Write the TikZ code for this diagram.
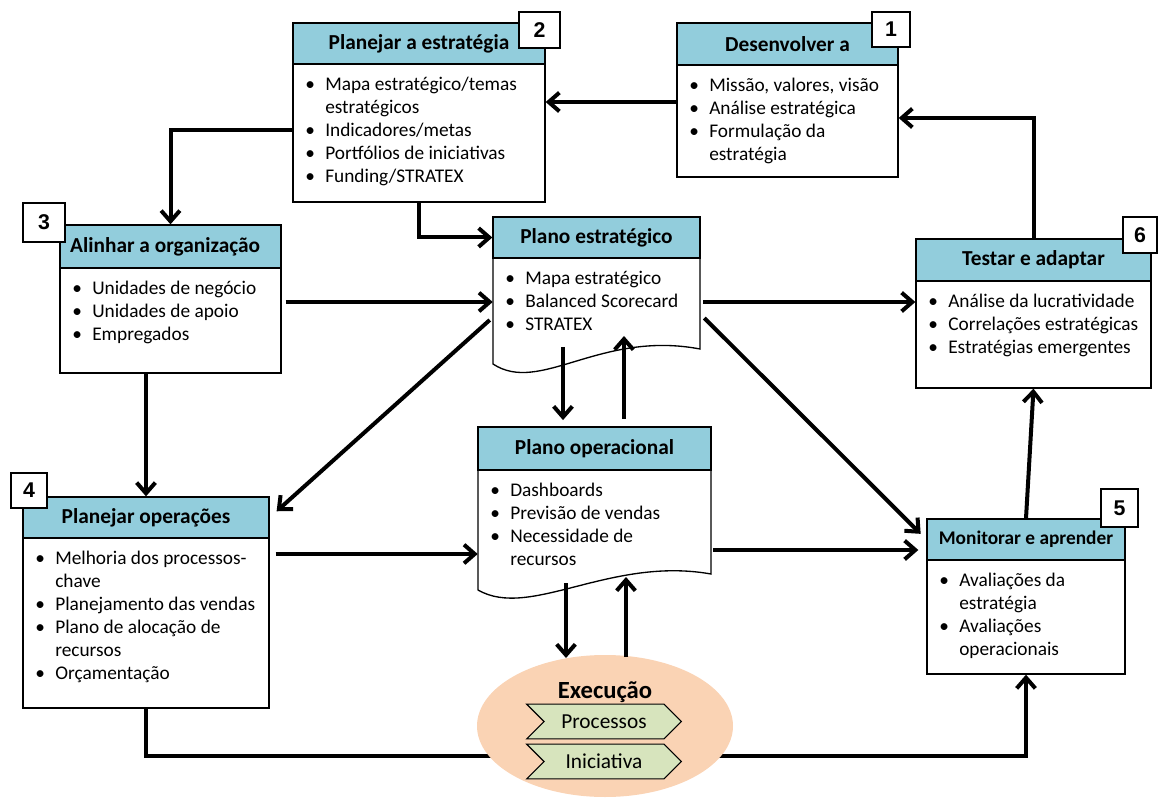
\documentclass[tikz,border=0pt]{standalone}
\usepackage{fontspec}
\setmainfont{Carlito}
\newfontfamily\numfont{Liberation Sans}
\usetikzlibrary{arrows.meta,fit,shapes.geometric,shapes.symbols,calc}
\definecolor{hdr}{HTML}{92CDDC}
\definecolor{peach}{HTML}{FAD3B4}
\definecolor{chev}{HTML}{D7E4BD}
\newcommand\bul[1]{\strut\makebox[15pt][l]{\textbullet}#1}
\newcommand\cnt[1]{\strut\hspace*{15pt}#1}
\begin{document}
\begin{tikzpicture}[x=0.75pt,y=-0.75pt,
  frame/.style={draw=black, line width=1pt, fill=white, inner sep=0pt},
  hdrbox/.style={draw=black, line width=1pt, fill=hdr, inner sep=0pt},
  ghost/.style={inner sep=0pt},
  ttl/.style={font=\fontsize{16}{18}\selectfont\bfseries, inner sep=0pt},
  body/.style={anchor=north west, align=left, inner sep=0pt, font=\fontsize{14.5}{17.25}\selectfont},
  numbox/.style={draw=black, line width=1pt, fill=white, inner sep=0pt},
  numtxt/.style={inner sep=0pt, font=\numfont\fontsize{16}{16}\selectfont\bfseries},
  conn/.style={line width=3pt, black},
  arr/.style={conn, -{Straight Barb[length=8pt,width=14pt]}},
  chevbox/.style={signal, signal to=east, signal from=west, draw=black, line width=0.8pt, fill=chev,
    minimum width=116pt, minimum height=26pt, inner sep=0pt, font=\fontsize{16}{18}\selectfont},
]
\useasboundingbox (0,0) rectangle (1160,798);

% ---------- Box 1: Desenvolver a
\node[frame, fit={(677,23)(898,177)}] (b1) {};
\node[hdrbox, fit={(677,23)(898,65)}] (h1) {};
\node[ttl] (h1t) at (h1) {Desenvolver a};
\node[body] (t1) at (689,75) {\bul{Missão, valores, visão}\\ \bul{Análise estratégica}\\ \bul{Formulação da}\\ \cnt{estratégia}};
\node[numbox, fit={(872,12)(910,47)}] (n1) {};
\node[numtxt] (n1t) at (n1) {1};

% ---------- Box 2: Planejar a estratégia
\node[frame, fit={(293,23)(545,202)}] (b2) {};
\node[hdrbox, fit={(293,23)(545,64)}] (h2) {};
\node[ttl] (h2t) at (h2) {Planejar a estratégia};
\node[body] (t2) at (305,74) {\bul{Mapa estratégico/temas}\\ \cnt{estratégicos}\\ \bul{Indicadores/metas}\\ \bul{Portfólios de iniciativas}\\ \bul{Funding/STRATEX}};
\node[numbox, fit={(519,12)(560,48)}] (n2) {};
\node[numtxt] (n2t) at (n2) {2};

% ---------- Box 3: Alinhar a organização
\node[frame, fit={(60,225)(281,373)}] (b3) {};
\node[hdrbox, fit={(60,225)(281,268)}] (h3) {};
\node[ttl] (h3t) at ([xshift=-4]h3.center) {Alinhar a organização};
\node[body] (t3) at (72,278) {\bul{Unidades de negócio}\\ \bul{Unidades de apoio}\\ \bul{Empregados}};
\node[numbox, fit={(23,203)(65,242)}] (n3) {};
\node[numtxt] (n3t) at (n3) {3};

% ---------- Plano estratégico (document shape)
\node[ghost, fit={(493,217)(700,349)}] (ps) {};
\draw[line width=1pt, fill=white] (493,217) -- (700,217) -- (700,349)
  .. controls (600,330) and (540,395) .. (493,364) -- cycle;
\node[hdrbox, fit={(493,217)(700,258)}] (psh) {};
\node[ttl] (psht) at (psh) {Plano estratégico};
\node[body] (pst) at (505,268) {\bul{Mapa estratégico}\\ \bul{Balanced Scorecard}\\ \bul{STRATEX}};

% ---------- Box 6: Testar e adaptar
\node[frame, fit={(916,239)(1151,388)}] (b6) {};
\node[hdrbox, fit={(916,239)(1151,281)}] (h6) {};
\node[ttl] (h6t) at (h6) {Testar e adaptar};
\node[body] (t6) at (928,291) {\bul{Análise da lucratividade}\\ \bul{Correlações estratégicas}\\ \bul{Estratégias emergentes}};
\node[numbox, fit={(1123,217)(1157,253)}] (n6) {};
\node[numtxt] (n6t) at (n6) {6};

% ---------- Plano operacional (document shape)
\node[ghost, fit={(478,427)(711,574)}] (po) {};
\draw[line width=1pt, fill=white] (478,427) -- (711,427) -- (711,574)
  .. controls (610,556) and (530,620) .. (478,590) -- cycle;
\node[hdrbox, fit={(478,427)(711,470)}] (poh) {};
\node[ttl] (poht) at (poh) {Plano operacional};
\node[body] (pot) at (490,480) {\bul{Dashboards}\\ \bul{Previsão de vendas}\\ \bul{Necessidade de}\\ \cnt{recursos}};

% ---------- Box 4: Planejar operações
\node[frame, fit={(23,497)(269,708)}] (b4) {};
\node[hdrbox, fit={(23,497)(269,538)}] (h4) {};
\node[ttl] (h4t) at (h4) {Planejar operações};
\node[body] (t4) at (35,548) {\bul{Melhoria dos processos-}\\ \cnt{chave}\\ \bul{Planejamento das vendas}\\ \bul{Plano de alocação de}\\ \cnt{recursos}\\ \bul{Orçamentação}};
\node[numbox, fit={(11,473)(47,508)}] (n4) {};
\node[numtxt] (n4t) at (n4) {4};

% ---------- Box 5: Monitorar e aprender
\node[frame, fit={(927,519)(1125,674)}] (b5) {};
\node[hdrbox, fit={(927,519)(1125,560)}] (h5) {};
\node[ttl, font=\fontsize{14.5}{17}\selectfont\bfseries] (h5t) at (h5) {Monitorar e aprender};
\node[body] (t5) at (939,570) {\bul{Avaliações da}\\ \cnt{estratégia}\\ \bul{Avaliações}\\ \cnt{operacionais}};
\node[numbox, fit={(1101,489)(1138,527)}] (n5) {};
\node[numtxt] (n5t) at (n5) {5};

% ---------- bottom connector (behind the ellipse)
\draw[arr] (b4.south) |- (b5.south |- 0,756) -- (b5.south);

% ---------- Execução
\node[ellipse, fill=peach, minimum width=192pt, minimum height=106.5pt, inner sep=0pt] (exe) at (605,726) {};
\node[font=\fontsize{18.5}{20}\selectfont\bfseries, inner sep=0pt] (exet) at (605,692) {Execução};
\node[chevbox] (proc) at (604,721.5) {Processos};
\node[chevbox] (inic) at (604,761.5) {Iniciativa};

% ---------- free ends
\coordinate (c1) at (563,347);
\coordinate (c2a) at (624,419);
\coordinate (c2) at (624,336);
\coordinate (c3) at (566,583);
\coordinate (c4a) at (626,657);
\coordinate (c4) at (626,577);

% ---------- connectors
\draw[arr] (b1.west |- 0,102) -- (b2.east |- 0,102);
\draw[arr] (b2.west |- 0,130) -| (b3.north);
\draw[arr] (b2.south) |- (psh.west);
\draw[arr] ($(b3.east |- 0,302)+(4,0)$) -- (ps.west |- 0,302);
\draw[arr] ($(ps.east |- 0,302)+(3,0)$) -- (b6.west |- 0,302);
\draw[arr, shorten >=6pt] ($(ps.east |- 0,318)+(4,0)$) -- (h5.west);
\draw[arr, shorten >=7pt] ($(ps.west |- 0,320)+(-3,0)$) -- (h4.east);
\draw[arr, shorten >=5pt] (c1) -- (c1 |- po.north);
\draw[arr] (c2a) -- (c2);
\draw[arr] (b3.south -| b4.north) -- (b4.north);
\draw[arr] ($(b4.east |- 0,554)+(6,0)$) -- (po.west |- 0,554);
\draw[arr, shorten >=6pt] ($(po.east |- 0,550)+(2,0)$) -- (b5.west |- 0,550);
\draw[arr] (c3) -- (c3 |- 0,658);
\draw[arr] (c4a) -- (c4);
\draw[arr] (b5.north) -- (b6.south);
\draw[arr] (b6.north) |- (b1.east |- 0,118);
\end{tikzpicture}
\end{document}
